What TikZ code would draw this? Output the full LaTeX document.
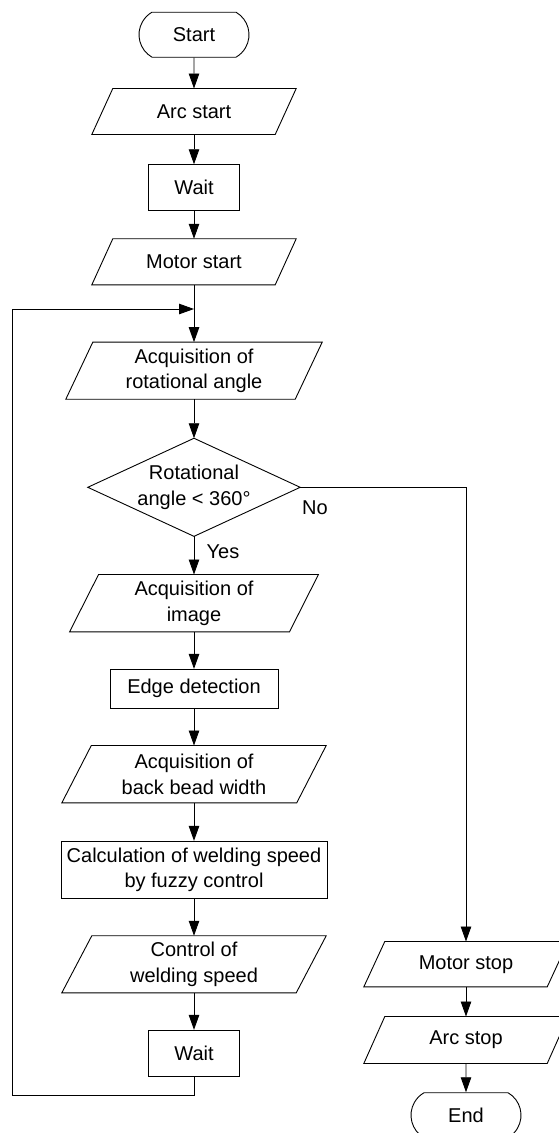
\documentclass[tikz,border=0pt]{standalone}
\usepackage{fontspec}
\setmainfont{Liberation Sans}
\usetikzlibrary{arrows.meta,shapes.misc}

% outline of a slanted input/output box around an invisible node
\newcommand\slantoutline[2]{%
  \draw[line width=0.9pt] ([xshift=#2/2]#1.north west) -- ([xshift=#2/2]#1.north east)
    -- ([xshift=-#2/2]#1.south east) -- ([xshift=-#2/2]#1.south west) -- cycle;}

\begin{document}
\begin{tikzpicture}[x=1pt,y=-1pt,
  every node/.style={font=\fontsize{20}{25.7}\selectfont, align=center, inner sep=0pt},
  box/.style 2 args={draw, line width=0.9pt, minimum width=#1pt, minimum height=#2pt},
  slantnode/.style 2 args={minimum width=#1pt, minimum height=#2pt},
  term/.style={draw, rounded rectangle, rounded rectangle arc length=120,
    minimum width=110pt, minimum height=45pt, line width=0.9pt},
  flow/.style={line width=0.9pt, -{Triangle[length=15pt,width=10.5pt]}},
  plain/.style={line width=0.9pt}]
\useasboundingbox (0,0) rectangle (558,1133);

% main column
\node[term] (start) at (194,34.7) {Start};
\node[slantnode={183}{45.6}] (arcs) at (194,111.5) {Arc start};
\node[box={90.7}{45.6}] (wait1) at (194,187.5) {Wait};
\node[slantnode={183}{45.7}] (mstart) at (194,261.8) {Motor start};
\coordinate (merge) at (194,309);
\node[slantnode={229}{56.7}] (acqrot) at (194,370.7) {Acquisition of\\rotational angle};
\node[slantnode={212}{97.7}] (dec) at (194,487.3) {Rotational\\angle < 360°};
\node[slantnode={219.5}{57}] (acqimg) at (194,603.2) {Acquisition of\\image};
\node[box={168}{38.7}] (edge) at (194,688.7) {Edge detection};
\node[slantnode={234.5}{57}] (bead) at (194,774.2) {Acquisition of\\back bead width};
\node[box={266}{57}] (calc) at (194,869.8) {Calculation of welding speed\\by fuzzy control};
\node[slantnode={234}{56.7}] (ctrl) at (194,964.3) {Control of\\welding speed};
\node[box={90.7}{46.4}] (wait2) at (194,1053.5) {Wait};

% exit column
\node[slantnode={183}{45}] (mstop) at (466,964.2) {Motor stop};
\node[slantnode={183}{46.6}] (astop) at (466,1040) {Arc stop};
\node[term] (end) at (466,1115.2) {End};

% branch labels
\node (no) at (315,508) {No};
\node (yes) at (223,552) {Yes};

% shape outlines
\slantoutline{arcs}{21}
\slantoutline{mstart}{21}
\slantoutline{acqrot}{27}
\slantoutline{acqimg}{29}
\slantoutline{bead}{29.5}
\slantoutline{ctrl}{30}
\slantoutline{mstop}{21}
\slantoutline{astop}{21}
\draw[line width=0.9pt] (dec.north) -- (dec.east) -- (dec.south) -- (dec.west) -- cycle;

% loop corners
\coordinate (lb) at (12,1095);
\coordinate (lt) at (12,309);

% connectors
\draw[flow] (start) -- (arcs);
\draw[flow] (arcs) -- (wait1);
\draw[flow] (wait1) -- (mstart);
\draw[plain] (mstart.south) -- (merge);
\draw[flow] (merge) -- (acqrot.north);
\draw[flow] (acqrot) -- (dec.north);
\draw[flow] (dec.south) -- (acqimg);
\draw[flow] (acqimg) -- (edge);
\draw[flow] (edge) -- (bead);
\draw[flow] (bead) -- (calc);
\draw[flow] (calc) -- (ctrl);
\draw[flow] (ctrl) -- (wait2);
\draw[flow] (wait2.south) |- (lb) -- (lt) -- (merge);
\draw[flow] (dec.east) -| (mstop.north);
\draw[flow] (mstop) -- (astop);
\draw[flow] (astop) -- (end);
\end{tikzpicture}
\end{document}
